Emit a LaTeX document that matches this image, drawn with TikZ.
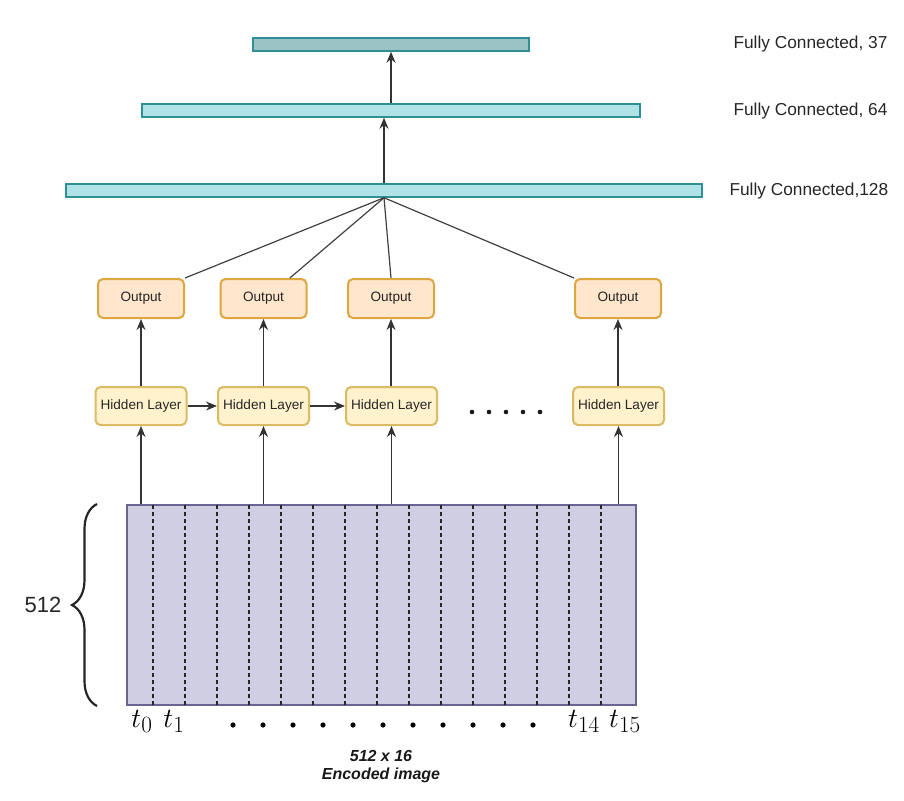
\documentclass[tikz,border=0pt]{standalone}
\usepackage{fontspec}
\setmainfont{Liberation Sans}
\usetikzlibrary{arrows.meta,decorations.pathreplacing,calc}

\definecolor{fcdark}{HTML}{9CC3C3}
\definecolor{fcfill}{HTML}{B0E3E6}
\definecolor{fcdraw}{HTML}{2E8F96}
\definecolor{outfill}{HTML}{FFE6CC}
\definecolor{outdraw}{HTML}{DDA640}
\definecolor{hidfill}{HTML}{FFF2CC}
\definecolor{hiddraw}{HTML}{D9BB63}
\definecolor{encfill}{HTML}{D0CEE2}
\definecolor{encdraw}{HTML}{6A6694}

\tikzset{
  fcbar/.style={draw=fcdraw, fill=fcfill, line width=1.5pt, minimum height=13pt, inner sep=0pt},
  fclbl/.style={anchor=west, text=black!85, font=\fontsize{17.3}{20}\selectfont},
  outbox/.style={draw=outdraw, fill=outfill, rounded corners=5pt, line width=2pt,
    minimum width=86pt, minimum height=39pt, text=black!85, font=\fontsize{13.6}{15}\selectfont},
  hidbox/.style={draw=hiddraw, fill=hidfill, rounded corners=5pt, line width=2pt,
    minimum width=91pt, minimum height=38pt, text=black!85, font=\fontsize{13.6}{15}\selectfont},
  conn/.style={draw=black!80, line width=1.3pt, -{Stealth[length=11pt,width=9pt]}},
  fan/.style={draw=black!75, line width=1.2pt},
  tlbl/.style={anchor=base, font=\fontsize{24.88}{28}\selectfont},
}

\begin{document}
\begin{tikzpicture}[x=1pt,y=-1pt]
  \useasboundingbox (0,0) rectangle (904,800);

  % fully connected layers
  \node[fcbar, fill=fcdark, minimum width=276pt] (fcthree) at (391,44.5) {};
  \node[fcbar, minimum width=498pt] (fcsix) at (391,110.5) {};
  \node[fcbar, minimum width=636pt] (fcone) at (384,190.5) {};
  \node[fclbl] (lblthree) at (730,44) {Fully Connected, 37};
  \node[fclbl] (lblsix) at (730,111) {Fully Connected, 64};
  \node[fclbl] (lblone) at (726,191) {Fully Connected,128};

  \draw[conn] (fcone.north) -- (fcone.north |- fcsix.south);
  \draw[conn] (fcsix.north) -- (fcthree.south);

  % outputs and hidden layers
  \node[outbox] (outa) at (141,298.5) {Output};
  \node[outbox] (outb) at (263.5,298.5) {Output};
  \node[outbox] (outc) at (391,298.5) {Output};
  \node[outbox] (outd) at (618,298.5) {Output};
  \node[hidbox] (hida) at (141,406) {Hidden Layer};
  \node[hidbox] (hidb) at (263.5,406) {Hidden Layer};
  \node[hidbox] (hidc) at (391.5,406) {Hidden Layer};
  \node[hidbox] (hidd) at (618.5,406) {Hidden Layer};

  \draw[fan] (fcone.south) -- (outa.north east);
  \draw[fan] (fcone.south) -- ($(outb.north)!0.6!(outb.north east)$);
  \draw[fan] (fcone.south) -- (outc.north);
  \draw[fan] (fcone.south) -- (outd.north west);

  \draw[conn] (hida) -- (outa);
  \draw[conn] (hidb) -- (outb);
  \draw[conn] (hidc.north -| outc) -- (outc);
  \draw[conn] (hidd.north -| outd) -- (outd);
  \draw[conn] (hida) -- (hidb);
  \draw[conn] (hidb) -- (hidc);
  \foreach \d in {472,489,...,540} \fill[black!90] (\d,412) circle (2.3pt);

  % encoded image
  \node[draw=encdraw, fill=encfill, line width=1.5pt, minimum width=509pt, minimum height=200pt, inner sep=0pt] (enc) at (381.5,605) {};
  \foreach \c in {153,185,...,601} \draw[dashed, dash pattern=on 4pt off 3pt, line width=1.3pt, black!85] (\c,505) -- (\c,705);

  \draw[conn] (hida.south |- enc.north) -- (hida.south);
  \draw[conn] (hidb.south |- enc.north) -- (hidb.south);
  \draw[conn] (hidc.south |- enc.north) -- (hidc.south);
  \draw[conn] (hidd.south |- enc.north) -- (hidd.south);

  \draw[decorate, decoration={brace, amplitude=25pt}, line width=2.2pt, black!85] (97,706) -- (97,504);
  \node[text=black!85, font=\fontsize{22}{24}\selectfont] (dimlbl) at (43,605) {512};

  \node[tlbl] (tzero) at (142,727) {\scalebox{1.12}{$t_0$}};
  \node[tlbl] (tone) at (174,727) {\scalebox{1.12}{$t_1$}};
  \node[tlbl] (tfourteen) at (584,727) {\scalebox{1.12}{$t_{14}$}};
  \node[tlbl] (tfifteen) at (625,727) {\scalebox{1.12}{$t_{15}$}};
  \foreach \d in {233,263,...,533} \fill (\d,725) circle (2.6pt);

  \node[align=center, text=black!90, font=\fontsize{16}{18}\selectfont\bfseries\itshape] (caption) at (381,767) {512 x 16\\Encoded image};
\end{tikzpicture}
\end{document}
